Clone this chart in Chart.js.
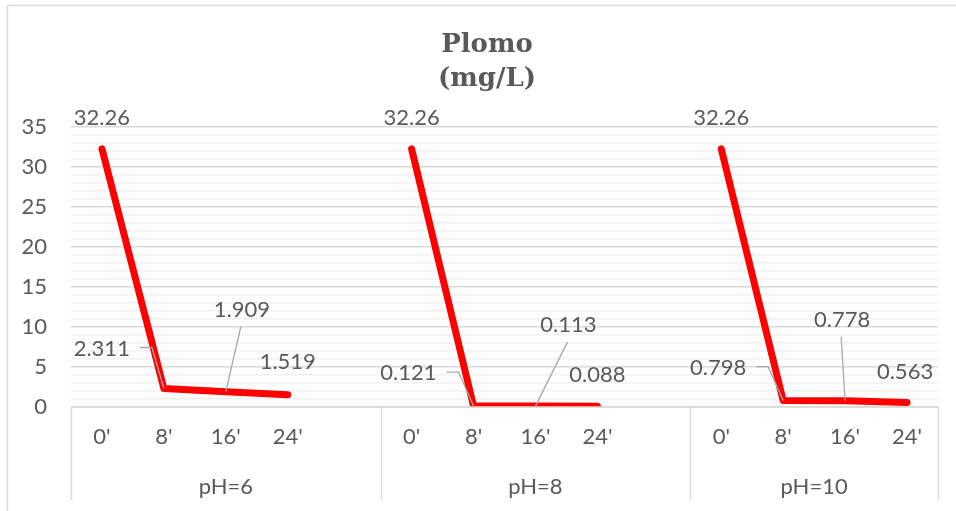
<!DOCTYPE html>
<html>
<head>
<meta charset="utf-8">
<title>Plomo (mg/L)</title>
<script src="https://cdn.jsdelivr.net/npm/chart.js@4.4.1/dist/chart.umd.min.js"></script>
<style>
  html, body { margin: 0; padding: 0; background: #ffffff; }
  #wrap { width: 956px; height: 511px; }
</style>
</head>
<body>
<div id="wrap"><canvas id="myChart" width="956" height="511"></canvas></div>
<script>
'use strict';

//Chart data
let timeLabels = ["0'", "8'", "16'", "24'", ''];
let groupLabels = ['pH=6', 'pH=8', 'pH=10'];
let groupSizes = [5, 5, 4];
let ph6Values = [32.26, 2.311, 1.909, 1.519];
let ph8Values = [32.26, 0.121, 0.113, 0.088];
let ph10Values = [32.26, 0.798, 0.778, 0.563];
let yTicks = [0, 5, 10, 15, 20, 25, 30, 35];

//Where each data label sits relative to its point, [dx, dy, leader]
let labelPlacement = [
  [0, -31, ''], [-34, -40, 'left'], [16, -82, 'up'], [0, -33, ''],
  [0, -31, ''], [-37, -33, 'left'], [33, -81, 'up'], [0, -31, ''],
  [0, -31, ''], [-37, -33, 'left'], [-3, -81, 'up'], [-2, -31, '']
];

const textColor = '#595959';
const lineGray = '#d9d9d9';
const labelFont = '22px Lato';

//Build the flat category list and one value list with gaps between groups
let categories = [];
let values = [];
let valueLabels = [];
let seriesList = [ph6Values, ph8Values, ph10Values];
for (let g = 0; g < groupSizes.length; g++) {
  for (let i = 0; i < groupSizes[g]; i++) {
    categories.push(timeLabels[i]);
    let v = i < seriesList[g].length ? seriesList[g][i] : null;
    values.push(v);
    valueLabels.push(v === null ? null : String(v));
  }
}

//Draws the frame, title, two-level category axis and data labels
const excelLook = {
  id: 'excelLook',
  beforeDraw(chart) {
    let ctx = chart.ctx;
    ctx.save();
    ctx.strokeStyle = lineGray;
    ctx.lineWidth = 1.3;
    ctx.beginPath();
    ctx.moveTo(7.5, 520);
    ctx.lineTo(7.5, 5.5);
    ctx.lineTo(960, 5.5);
    ctx.stroke();
    ctx.restore();
  },
  afterDraw(chart) {
    let ctx = chart.ctx;
    let area = chart.chartArea;
    let xScale = chart.scales.x;
    ctx.save();

    //title
    ctx.fillStyle = textColor;
    ctx.textAlign = 'center';
    ctx.textBaseline = 'middle';
    ctx.font = 'bold 26px "DejaVu Serif"';
    ctx.fillText('Plomo', 487, 45);
    ctx.fillText('(mg/L)', 487, 79);

    //category axis box
    ctx.strokeStyle = lineGray;
    ctx.lineWidth = 1.3;
    let boxBottom = 500;
    let bounds = [area.left];
    let start = 0;
    for (let g = 0; g < groupSizes.length; g++) {
      let end = start + groupSizes[g] - 1;
      if (g < groupSizes.length - 1) {
        bounds.push((xScale.getPixelForValue(end) + xScale.getPixelForValue(end + 1)) / 2);
      } else {
        bounds.push(area.right);
      }
      start = end + 1;
    }
    ctx.beginPath();
    ctx.moveTo(area.left, area.bottom);
    ctx.lineTo(area.right, area.bottom);
    for (let b = 0; b < bounds.length; b++) {
      ctx.moveTo(Math.round(bounds[b]) + 0.5, area.bottom);
      ctx.lineTo(Math.round(bounds[b]) + 0.5, boxBottom);
    }
    ctx.stroke();

    ctx.font = labelFont;
    for (let i = 0; i < categories.length; i++) {
      ctx.fillText(categories[i], xScale.getPixelForValue(i), 437);
    }
    for (let g = 0; g < groupLabels.length; g++) {
      ctx.fillText(groupLabels[g], (bounds[g] + bounds[g + 1]) / 2, 487);
    }

    //data labels with leader lines
    let points = chart.getDatasetMeta(0).data;
    let n = 0;
    ctx.strokeStyle = '#a6a6a6';
    ctx.lineWidth = 1.3;
    for (let i = 0; i < points.length; i++) {
      if (valueLabels[i] === null) {
        continue;
      }
      let p = points[i];
      let place = labelPlacement[n];
      n++;
      let lx = p.x + place[0];
      let ly = p.y + place[1];
      if (place[2] === 'left') {
        ctx.textAlign = 'right';
        ctx.fillText(valueLabels[i], lx, ly);
        ctx.beginPath();
        ctx.moveTo(lx + 10, ly - 1);
        ctx.lineTo(lx + 22, ly - 1);
        ctx.lineTo(p.x, p.y);
        ctx.stroke();
      } else {
        ctx.textAlign = 'center';
        ctx.fillText(valueLabels[i], lx, ly);
        if (place[2] === 'up') {
          ctx.beginPath();
          ctx.moveTo(lx - 1, ly + 17);
          ctx.lineTo(p.x, p.y);
          ctx.stroke();
        }
      }
    }
    ctx.restore();
  }
};

const ctx = document.getElementById('myChart').getContext('2d');

new Chart(ctx, {
  type: 'line',
  data: {
    labels: categories,
    datasets: [{
      label: 'Plomo',
      data: values,
      borderColor: '#ff0000',
      borderWidth: 7,
      borderCapStyle: 'round',
      borderJoinStyle: 'round',
      pointRadius: 0,
      pointHoverRadius: 0,
      tension: 0,
      spanGaps: false
    }]
  },
  options: {
    responsive: false,
    animation: false,
    events: [],
    layout: {
      padding: { left: 0, top: 127, right: 18, bottom: 104 }
    },
    plugins: {
      legend: { display: false },
      title: { display: false },
      tooltip: { enabled: false }
    },
    scales: {
      x: {
        type: 'category',
        display: false,
        offset: true
      },
      y: {
        min: 0,
        max: 35,
        afterFit: function(scale) {
          scale.width = 71;
        },
        afterBuildTicks: function(scale) {
          //one gridline per unit, labels only on the major ones
          let list = [];
          for (let v = 0; v <= 35; v++) {
            list.push({ value: v });
          }
          scale.ticks = list;
        },
        border: { display: false },
        grid: {
          drawTicks: false,
          lineWidth: 1.4,
          color: function(c) {
            return yTicks.includes(c.tick.value) ? lineGray : '#f0f0f0';
          }
        },
        ticks: {
          autoSkip: false,
          padding: 24,
          color: textColor,
          font: { family: 'Lato', size: 22 },
          callback: function(value) {
            return yTicks.includes(value) ? value : '';
          }
        }
      }
    }
  },
  plugins: [excelLook]
});
</script>
</body>
</html>
